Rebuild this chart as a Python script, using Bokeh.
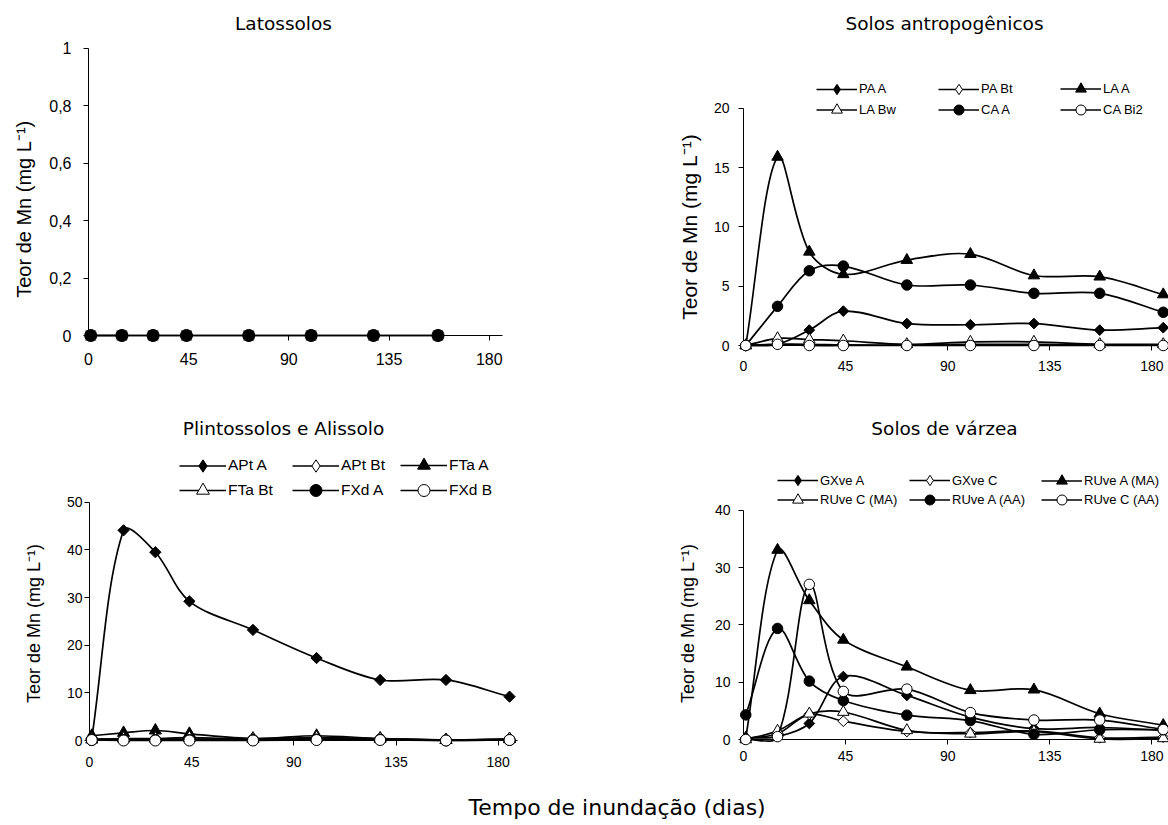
import math
from bokeh.plotting import figure
from bokeh.models import (Range1d, FixedTicker, Legend, LegendItem, Label,
                          ColumnDataSource, CustomJSTickFormatter)
from bokeh.layouts import column, row
from bokeh.embed import file_html
from bokeh.resources import INLINE

# ---------------- data ----------------
days = [1, 15, 29, 44, 72, 100, 128, 157, 185]
lat_days = [1, 15, 29, 44, 72, 100, 128, 157]
x_ticks = [0, 45, 90, 135, 180]

# Latossolos (all zero)
lat_series_a = [0, 0, 0, 0, 0, 0, 0, 0]
lat_series_b = [0, 0, 0, 0, 0, 0, 0, 0]
lat_y_ticks = [0, 0.2, 0.4, 0.6, 0.8, 1]

# Solos antropogênicos
antro_labels = ["PA A", "PA Bt", "LA A", "LA Bw", "CA A", "CA Bi2"]
pa_a = [0, 0.1, 1.3, 2.9, 1.85, 1.75, 1.85, 1.3, 1.5]
pa_bt = [0, 0.1, 0.1, 0.05, 0.05, 0.1, 0.1, 0.05, 0.05]
la_a = [0, 15.9, 7.9, 6.0, 7.2, 7.7, 5.9, 5.8, 4.3]
la_bw = [0, 0.6, 0.5, 0.4, 0.1, 0.3, 0.3, 0.1, 0.1]
ca_a = [0, 3.3, 6.3, 6.7, 5.1, 5.1, 4.4, 4.4, 2.8]
ca_bi2 = [0, 0.1, 0, 0, 0, 0, 0, 0, 0]
antro_y_ticks = [0, 5, 10, 15, 20]

# Plintossolos e Alissolo
plinto_labels = ["APt A", "APt Bt", "FTa A", "FTa Bt", "FXd A", "FXd B"]
apt_a = [0.5, 44.1, 39.5, 29.2, 23.2, 17.3, 12.7, 12.7, 9.2]
apt_bt = [0.3, 0.3, 0.3, 0.3, 0.3, 0.5, 0.3, 0.1, 0.3]
fta_a = [1.0, 1.6, 2.1, 1.4, 0.4, 1.0, 0.4, 0.1, 0.3]
fta_bt = [0.2, 0.4, 0.4, 0.6, 0.3, 0.6, 0.4, 0.1, 0.3]
fxd_a = [0.1, 0.1, 0.1, 0.1, 0.1, 0.2, 0.2, 0.0, 0.1]
fxd_b = [0.1, 0.0, 0.0, 0.0, 0.0, 0.1, 0.1, 0.0, 0.1]
plinto_y_ticks = [0, 10, 20, 30, 40, 50]

# Solos de várzea
varzea_labels = ["GXve A", "GXve C", "RUve A (MA)", "RUve C (MA)", "RUve A (AA)", "RUve C (AA)"]
gxve_a = [0.3, 0.5, 2.8, 11.0, 7.7, 3.9, 1.9, 2.1, 1.6]
gxve_c = [0.2, 1.0, 4.4, 3.2, 1.4, 1.2, 1.5, 0.3, 0.4]
ruve_a_ma = [0.3, 33.1, 24.3, 17.4, 12.7, 8.6, 8.7, 4.5, 2.5]
ruve_c_ma = [0, 1.5, 4.5, 4.8, 1.6, 1.0, 1.4, 0.1, 0.2]
ruve_a_aa = [4.3, 19.4, 10.2, 6.8, 4.25, 3.3, 0.9, 1.7, 1.7]
ruve_c_aa = [0, 0.5, 27.1, 8.4, 8.8, 4.7, 3.4, 3.4, 1.75]
varzea_y_ticks = [0, 10, 20, 30, 40]

y_label = "Teor de Mn (mg L\u207b\u00b9)"
y_label_lat = "Teor de  Mn (mg L\u207b\u00b9)"
x_label = "Tempo de inundação (dias)"

# ---------------- styles ----------------
STYLE = {
    "diamond": dict(marker="square", angle=math.pi / 4, size=7.6, leg_marker="diamond", leg_h=26),
    "triangle": dict(marker="triangle", angle=0.0, size=11.5, leg_marker="triangle", leg_h=27),
    "circle": dict(marker="circle", angle=0.0, size=10.5, leg_marker="circle", leg_h=25),
}
KINDS = [("diamond", "black"), ("diamond", "white"), ("triangle", "black"),
         ("triangle", "white"), ("circle", "black"), ("circle", "white")]
TITLE_FONT = "DejaVu Sans"
ARIAL = "Liberation Sans"
NAN = float("nan")


def smooth_source(xs, ys, sx, sy):
    """Bezier segments (Excel-like smoothed line) between the data points."""
    n = len(xs)
    px = [x * sx for x in xs]
    py = [y * sy for y in ys]
    d = [math.hypot(px[i + 1] - px[i], py[i + 1] - py[i]) or 1e-9 for i in range(n - 1)]
    tang = []
    for i in range(n):
        if i == 0:
            tang.append(((px[1] - px[0]) / d[0], (py[1] - py[0]) / d[0]))
        elif i == n - 1:
            tang.append(((px[i] - px[i - 1]) / d[i - 1], (py[i] - py[i - 1]) / d[i - 1]))
        else:
            s = d[i - 1] + d[i]
            tang.append(((px[i + 1] - px[i - 1]) / s, (py[i + 1] - py[i - 1]) / s))
    cols = {k: [] for k in ("x0", "y0", "x1", "y1", "cx0", "cy0", "cx1", "cy1")}
    for i in range(n - 1):
        k = d[i] / 3.0
        cols["x0"].append(xs[i])
        cols["y0"].append(ys[i])
        cols["x1"].append(xs[i + 1])
        cols["y1"].append(ys[i + 1])
        cols["cx0"].append((px[i] + tang[i][0] * k) / sx)
        cols["cy0"].append((py[i] + tang[i][1] * k) / sy)
        cols["cx1"].append((px[i + 1] - tang[i + 1][0] * k) / sx)
        cols["cy1"].append((py[i + 1] - tang[i + 1][1] * k) / sy)
    return ColumnDataSource(cols)


def text_fig(left, top, width, height, text, px, py, font, size, angle=0.0, align="center"):
    """A bare figure that only carries a text label (axis titles)."""
    f = figure(width=width, height=height, x_range=Range1d(0, 1), y_range=Range1d(0, 1),
               output_backend="svg", toolbar_location=None, title=None,
               x_axis_type=None, y_axis_type=None, min_border=0)
    f.frame_align = False
    f.outline_line_color = None
    f.xgrid.grid_line_color = None
    f.ygrid.grid_line_color = None
    f.add_layout(Label(x=px - left, y=top + height - py, x_units="screen", y_units="screen",
                       text=text, text_font=font, text_font_size=size, text_color="black",
                       text_align=align, text_baseline="middle", angle=angle))
    return f


class Panel:
    def __init__(self, left, top, width, height, mbl, mbr, mbb, xend, yend, ymax, yticks,
                 tick_font, ytick_standoff, xtick_standoff, xbound=None):
        p = figure(width=width, height=height, x_range=Range1d(0, xend), y_range=Range1d(0, yend),
                   output_backend="svg", toolbar_location=None, title=None,
                   min_border_left=mbl, min_border_right=mbr, min_border_top=0,
                   min_border_bottom=mbb)
        p.frame_align = False
        p.outline_line_color = None
        p.xgrid.grid_line_color = None
        p.ygrid.grid_line_color = None
        p.background_fill_color = "white"
        p.border_fill_color = "white"
        for ax in (p.xaxis[0], p.yaxis[0]):
            ax.axis_line_color = "black"
            ax.axis_line_width = 1
            ax.major_tick_line_color = "black"
            ax.major_tick_line_width = 1
            ax.minor_tick_line_color = None
            ax.major_tick_in = 0
            ax.major_tick_out = 5
            ax.major_label_text_font = ARIAL
            ax.major_label_text_font_size = f"{tick_font}px"
            ax.major_label_text_color = "black"
        p.xaxis.ticker = FixedTicker(ticks=x_ticks)
        p.xaxis.major_label_standoff = xtick_standoff
        if xbound is not None:
            p.xaxis.bounds = (0, xbound)
        p.yaxis.ticker = FixedTicker(ticks=yticks)
        p.yaxis.bounds = (0, ymax)
        p.yaxis.major_label_standoff = ytick_standoff
        p.yaxis.formatter = CustomJSTickFormatter(code="return String(tick).replace('.', ',');")
        self.p = p
        self.fl = left + mbl
        self.fb = top + height - mbb
        fw = width - mbl - mbr
        fh = height - mbb
        self.sx = fw / xend
        self.sy = fh / yend

    def text(self, text, px, py, font, size, align="center"):
        self.p.add_layout(Label(x=px - self.fl, y=self.fb - py, x_units="screen", y_units="screen",
                                text=text, text_font=font, text_font_size=size,
                                text_color="black", text_align=align, text_baseline="middle"))

    def series(self, xs, ys, kind, fill, scale=1.0):
        st = STYLE[kind]
        p = self.p
        br = p.bezier(x0="x0", y0="y0", x1="x1", y1="y1", cx0="cx0", cy0="cy0", cx1="cx1",
                      cy1="cy1", source=smooth_source(xs, ys, self.sx, self.sy),
                      line_color="black", line_width=1.7, level="overlay")
        p.scatter(xs, ys, marker=st["marker"], angle=st["angle"], size=st["size"] * scale,
                  fill_color=fill, line_color="black", line_width=1, level="overlay")
        # legend swatch: a marker renderer without a drawable point of its own
        lr = p.scatter(x=[NAN], y=[NAN], marker=st["leg_marker"], size=10, fill_color=fill,
                       line_color="black", line_width=1)
        return [br, lr]

    def legends(self, labels, rends, cols_x, rows_y, glyph_w, font_size, scale):
        for k, (lab, rr) in enumerate(zip(labels, rends)):
            r, c = divmod(k, 3)
            gh = int(round(STYLE[KINDS[k][0]]["leg_h"] * scale))
            leg = Legend(items=[LegendItem(label=lab, renderers=rr)],
                         location=(cols_x[c] - self.fl, self.fb - rows_y[r] - gh / 2),
                         glyph_width=int(glyph_w), glyph_height=gh, label_standoff=2,
                         label_height=10, label_width=10,
                         label_text_font=ARIAL, label_text_font_size=f"{font_size}px",
                         label_text_color="black", padding=0, margin=0, spacing=0,
                         border_line_color=None, background_fill_alpha=0)
            self.p.add_layout(leg)


# ---------------- panel 1: Latossolos ----------------
L1 = text_fig(0, 0, 45, 383, y_label_lat, 23.5, 206, ARIAL, "20px", angle=math.pi / 2)
P1 = Panel(45, 0, 535, 383, 43, 63, 48, 192.7, 1.166, 1, lat_y_ticks, 16, 12, 12, xbound=186)
P1.text("Latossolos", 283, 22.5, TITLE_FONT, "18.5px")
P1.series(lat_days, lat_series_b, "diamond", "black", 1.0)
P1.p.scatter(lat_days, lat_series_b, marker="square", size=10, fill_color="#7f7f7f",
             line_color="#7f7f7f", level="overlay")
P1.series(lat_days, lat_series_a, "circle", "black", 1.15)

# ---------------- panel 2: Solos antropogênicos ----------------
L2 = text_fig(580, 0, 125, 383, y_label, 689, 226.5, ARIAL, "21px", angle=math.pi / 2)
P2 = Panel(705, 0, 463, 383, 38, 3, 38, 186, 29.09, 20, antro_y_ticks, 14, 9, 10)
P2.text("Solos antropogênicos", 944, 22.5, TITLE_FONT, "18.5px")
antro_data = [pa_a, pa_bt, la_a, la_bw, ca_a, ca_bi2]
antro_r = [P2.series(days, ys, KINDS[i][0], KINDS[i][1]) for i, ys in enumerate(antro_data)]
P2.legends(antro_labels, antro_r, [816, 938, 1060], [88.5, 109.5], 41, 13, 1.0)

# ---------------- panel 3: Plintossolos e Alissolo ----------------
L3 = text_fig(0, 383, 45, 395, y_label, 33.5, 623, ARIAL, "18px", angle=math.pi / 2)
P3 = Panel(45, 383, 535, 395, 44, 63, 38, 188.5, 74.9, 50, plinto_y_ticks, 14, 2, 11)
P3.text("Plintossolos e Alissolo", 283, 428, TITLE_FONT, "18.5px")
plinto_data = [apt_a, apt_bt, fta_a, fta_bt, fxd_a, fxd_b]
plinto_r = [P3.series(days, ys, KINDS[i][0], KINDS[i][1], 1.05) for i, ys in enumerate(plinto_data)]
P3.legends(plinto_labels, plinto_r, [179, 292, 400], [465, 490], 47, 15.5, 1.2)

# ---------------- panel 4: Solos de várzea ----------------
L4 = text_fig(580, 383, 125, 395, y_label, 687, 623, ARIAL, "18px", angle=math.pi / 2)
P4 = Panel(705, 383, 463, 395, 38, 3, 39, 186, 62.18, 40, varzea_y_ticks, 14, 8, 6)
P4.text("Solos de várzea", 944, 428, TITLE_FONT, "18.5px")
varzea_data = [gxve_a, gxve_c, ruve_a_ma, ruve_c_ma, ruve_a_aa, ruve_c_aa]
varzea_r = [P4.series(days, ys, KINDS[i][0], KINDS[i][1]) for i, ys in enumerate(varzea_data)]
P4.legends(varzea_labels, varzea_r, [777, 909, 1041], [480, 499.5], 41, 13, 1.0)

# ---------------- common x label ----------------
LB = text_fig(0, 778, 1168, 46, x_label, 468, 807, TITLE_FONT, "22px", align="left")

layout = column(row(L1, P1.p, L2, P2.p), row(L3, P3.p, L4, P4.p), LB)
open("out.html", "w").write(file_html(layout, INLINE))
